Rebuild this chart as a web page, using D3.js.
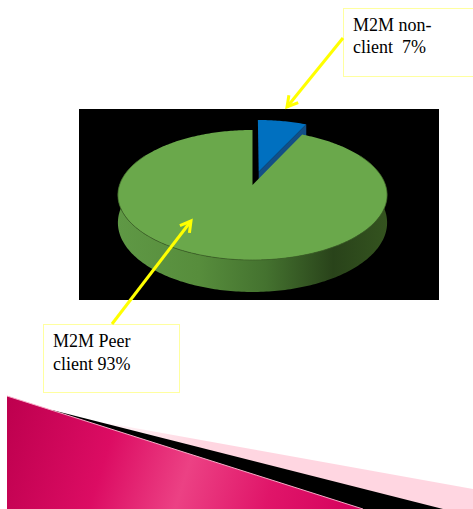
<!DOCTYPE html>
<html>
<head>
<meta charset="utf-8">
<script src="https://cdn.jsdelivr.net/npm/d3@7"></script>
<style>
  html, body { margin: 0; padding: 0; background: #ffffff; }
  svg { display: block; }
  text { font-family: "Liberation Serif", "Times New Roman", serif; font-size: 18px; fill: #000; white-space: pre; }
</style>
</head>
<body>
<script>
// Share of M2M clients
const categories = ["M2M non-client", "M2M Peer client"];
const values = [7, 93];
const sliceColors = ["#0070c0", "#6aa84b"];
const explodeBy = [0.22, 0];
const labelLines = [["M2M non-", "client  7%"], ["M2M Peer", "client 93%"]];

const W = 473, H = 509;
const svg = d3.select("body").append("svg").attr("width", W).attr("height", H);
const defs = svg.append("defs");

// ---- decorative slide footer ----
const pinkGrad = defs.append("linearGradient").attr("id", "pinkGrad")
  .attr("gradientUnits", "userSpaceOnUse").attr("x1", 80).attr("y1", 0).attr("x2", 200).attr("y2", 0);
pinkGrad.append("stop").attr("offset", 0).attr("stop-color", "#ffffff");
pinkGrad.append("stop").attr("offset", 1).attr("stop-color", "#ffd6e1");

const magGrad = defs.append("linearGradient").attr("id", "magGrad")
  .attr("gradientUnits", "userSpaceOnUse").attr("x1", 7).attr("y1", 396).attr("x2", 363).attr("y2", 509);
[[0, "#bd004e"], [0.3, "#dc0c63"], [0.52, "#ec4184"], [0.75, "#e01569"], [1, "#d4005c"]]
  .forEach(([o, c]) => magGrad.append("stop").attr("offset", o).attr("stop-color", c));

const poly = d3.line().curve(d3.curveLinearClosed);
svg.append("path").attr("d", poly([[90, 420], [473, 489], [473, 509], [90, 509]])).attr("fill", "url(#pinkGrad)");
svg.append("path").attr("d", poly([[52, 410], [443, 509], [7, 509]])).attr("fill", "#000");
svg.append("path").attr("d", poly([[7, 396], [363, 509], [7, 509]])).attr("fill", "url(#magGrad)");
svg.append("path").attr("d", d3.line()([[7, 396], [363, 509]]))
  .attr("stroke", "#f7a9c6").attr("stroke-width", 1).attr("fill", "none");

// ---- chart area ----
svg.append("rect").attr("x", 79).attr("y", 109).attr("width", 360).attr("height", 191).attr("fill", "#000");

// perspective projection of the pie disc
const cx = 252.5, cy = 185, R = 133, Rk = 63.5, dist = 6.5, depth = 27;
function proj(X, Z, down) {
  const s = dist / (dist + Z);
  return [cx + R * X * s, cy - Rk * Z * s + depth * (down || 0) * s];
}

const arcs = d3.pie().sort(null).value(d => d)(values);
const wallGrad = defs.append("linearGradient").attr("id", "wallGrad")
  .attr("gradientUnits", "userSpaceOnUse").attr("x1", 118).attr("y1", 0).attr("x2", 387).attr("y2", 0);
[[0, "#5f9845"], [0.3, "#578d3c"], [0.55, "#44722f"], [0.8, "#29431a"], [1, "#34531f"]]
  .forEach(([o, c]) => wallGrad.append("stop").attr("offset", o).attr("stop-color", c));
const darkColors = ["#134f86", "#3d6128"];

const slices = arcs.map((a, i) => {
  const mid = (a.startAngle + a.endAngle) / 2;
  return { a, i, ox: explodeBy[i] * Math.sin(mid), oz: explodeBy[i] * Math.cos(mid) };
}).sort((p, q) => q.oz - p.oz);

const step = Math.PI / 180;
function rim(sl, a0, a1, down) {
  const pts = [];
  for (let t = a0; t < a1; t += step) pts.push(proj(sl.ox + Math.sin(t), sl.oz + Math.cos(t), down));
  pts.push(proj(sl.ox + Math.sin(a1), sl.oz + Math.cos(a1), down));
  return pts;
}

const g = svg.append("g");
slices.forEach(sl => {
  const { a, i } = sl;
  // outer wall (front half only)
  const w0 = Math.max(a.startAngle, Math.PI / 3), w1 = Math.min(a.endAngle, Math.PI * 5 / 3);
  if (w1 > w0) {
    const top = rim(sl, w0, w1, 0), bot = rim(sl, w0, w1, 1).reverse();
    g.append("path").attr("d", poly(top.concat(bot))).attr("fill", "url(#wallGrad)");
  }
  // radial cut face at end angle
  const ea = a.endAngle;
  if (Math.cos(ea) > 0 && ea < Math.PI) {
    const c0 = proj(sl.ox, sl.oz, 0), c1 = proj(sl.ox, sl.oz, 1);
    const r0 = proj(sl.ox + Math.sin(ea), sl.oz + Math.cos(ea), 0);
    const r1 = proj(sl.ox + Math.sin(ea), sl.oz + Math.cos(ea), 1);
    g.append("path").attr("d", poly([c0, r0, r1, c1])).attr("fill", darkColors[i]);
  }
  // top face
  const topPts = [proj(sl.ox, sl.oz, 0)].concat(rim(sl, a.startAngle, a.endAngle, 0));
  g.append("path").attr("d", poly(topPts)).attr("fill", sliceColors[i]);
  // front edge line between top and wall
  if (w1 > w0) {
    g.append("path").attr("d", d3.line()(rim(sl, w0, w1, 0)))
      .attr("fill", "none").attr("stroke", darkColors[i]).attr("stroke-width", 1).attr("opacity", 0.8);
  }
});

// ---- callouts ----
const boxes = [
  { x: 343, y: 8, w: 140, h: 68, tx: 353, ty: [31, 53], from: [343, 38], to: [287, 107] },
  { x: 43, y: 324, w: 136, h: 68, tx: 53, ty: [347, 370], from: [112, 324], to: [191, 221] }
];
boxes.forEach((b, i) => {
  svg.append("rect").attr("x", b.x + 0.5).attr("y", b.y + 0.5).attr("width", b.w).attr("height", b.h)
    .attr("fill", "#fff").attr("stroke", "#ffffa0").attr("stroke-width", 1);
  labelLines[i].forEach((ln, k) => {
    svg.append("text").attr("x", b.tx).attr("y", b.ty[k]).text(ln);
  });
  const [x0, y0] = b.from, [x1, y1] = b.to;
  const ang = Math.atan2(y1 - y0, x1 - x0), L = 12, spread = Math.PI / 6;
  const h1 = [x1 - L * Math.cos(ang - spread), y1 - L * Math.sin(ang - spread)];
  const h2 = [x1 - L * Math.cos(ang + spread), y1 - L * Math.sin(ang + spread)];
  svg.append("path").attr("d", d3.line()([[x0, y0], [x1, y1]]))
    .attr("stroke", "#ffff00").attr("stroke-width", 3).attr("fill", "none");
  svg.append("path").attr("d", d3.line()([h1, [x1, y1], h2]))
    .attr("stroke", "#ffff00").attr("stroke-width", 3).attr("fill", "none")
    .attr("stroke-linejoin", "miter").attr("stroke-linecap", "butt");
});
</script>
</body>
</html>
